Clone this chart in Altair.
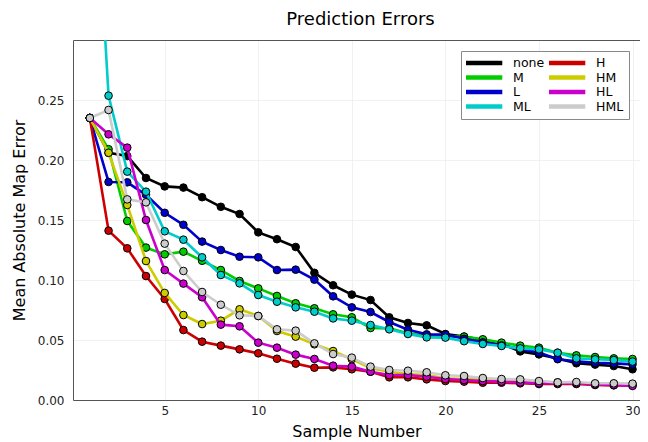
import altair as alt
import pandas as pd

samples = list(range(1, 31))
series_names = ["none", "M", "L", "ML", "H", "HM", "HL", "HML"]
series_colors = ["#000000", "#00cc00", "#0000cc", "#00cccc", "#cc0000", "#cccc00", "#cc00cc", "#cccccc"]

none_vals = [0.235, 0.206, 0.2033, 0.185, 0.178, 0.177, 0.169, 0.161, 0.155, 0.1397,
             0.134, 0.1275, 0.106, 0.0956, 0.0878, 0.0833, 0.0689, 0.0642, 0.0622, 0.0550,
             0.0528, 0.050, 0.047, 0.0405, 0.038, 0.0346, 0.0306, 0.0295, 0.0283, 0.0256]
m_vals = [0.235, 0.209, 0.1492, 0.127, 0.1214, 0.1236, 0.116, 0.1083, 0.0992, 0.093,
          0.0867, 0.0806, 0.0764, 0.0714, 0.0689, 0.060, 0.0597, 0.0556, 0.0533, 0.0528,
          0.0528, 0.0506, 0.0478, 0.0453, 0.0436, 0.0394, 0.0372, 0.0358, 0.0347, 0.0342]
l_vals = [0.235, 0.1817, 0.1814, 0.171, 0.156, 0.146, 0.132, 0.125, 0.1194, 0.1189,
          0.1083, 0.1086, 0.1003, 0.0864, 0.0772, 0.0733, 0.065, 0.0586, 0.0547, 0.0545,
          0.051, 0.048, 0.0455, 0.0425, 0.0395, 0.034, 0.0322, 0.031, 0.0305, 0.0297]
ml_vals = [0.52, 0.2536, 0.1903, 0.1736, 0.1406, 0.1336, 0.1189, 0.1042, 0.0972, 0.0875,
           0.0819, 0.0772, 0.0736, 0.068, 0.0661, 0.0625, 0.0589, 0.055, 0.0522, 0.052,
           0.049, 0.0467, 0.045, 0.043, 0.0422, 0.0394, 0.0347, 0.0339, 0.0333, 0.032]
h_vals = [0.235, 0.1411, 0.1264, 0.1033, 0.0842, 0.0583, 0.0486, 0.0453, 0.0422, 0.0389,
          0.0344, 0.0303, 0.0269, 0.0272, 0.0256, 0.0236, 0.0189, 0.0189, 0.0172, 0.0158,
          0.0153, 0.0144, 0.0144, 0.0139, 0.0133, 0.0133, 0.0133, 0.0125, 0.0122, 0.0122]
hm_vals = [0.235, 0.206, 0.1625, 0.1158, 0.0892, 0.0708, 0.0633, 0.0661, 0.0756, 0.070,
           0.0575, 0.0528, 0.0464, 0.0408, 0.034, 0.0264, 0.0236, 0.0217, 0.0208, 0.018,
           0.0175, 0.017, 0.0167, 0.016, 0.015, 0.0147, 0.0142, 0.0133, 0.0136, 0.0133]
hl_vals = [0.235, 0.2214, 0.2103, 0.150, 0.1083, 0.097, 0.0856, 0.0628, 0.0614, 0.0478,
           0.0436, 0.0378, 0.0342, 0.0286, 0.0278, 0.0236, 0.0208, 0.0208, 0.0194, 0.0175,
           0.0167, 0.0158, 0.0153, 0.0147, 0.0139, 0.0139, 0.0139, 0.013, 0.0125, 0.0117]
hml_vals = [0.235, 0.2417, 0.1672, 0.1647, 0.1303, 0.1075, 0.090, 0.0794, 0.0706, 0.070,
            0.0589, 0.0578, 0.0472, 0.0383, 0.0353, 0.0278, 0.025, 0.0244, 0.0231, 0.0206,
            0.020, 0.0183, 0.0175, 0.0172, 0.0158, 0.0147, 0.015, 0.0139, 0.0139, 0.0136]

x_ticks = [5, 10, 15, 20, 25, 30]
y_ticks = [0.0, 0.05, 0.10, 0.15, 0.20, 0.25]

all_vals = [none_vals, m_vals, l_vals, ml_vals, h_vals, hm_vals, hl_vals, hml_vals]
rows = []
for name, vals in zip(series_names, all_vals):
    for s, v in zip(samples, vals):
        rows.append({"sample": s, "error": v, "series": name})
df = pd.DataFrame(rows)

FONT = "DejaVu Sans"

x_scale = alt.Scale(domain=[0.1, 30.4], nice=False, zero=False)
y_scale = alt.Scale(domain=[0, 0.3], nice=False)

x_enc = alt.X("sample:Q", scale=x_scale,
              axis=alt.Axis(values=x_ticks, title="Sample Number", format="d"))
y_enc = alt.Y("error:Q", scale=y_scale,
              axis=alt.Axis(values=y_ticks, title="Mean Absolute Map Error", format=".2f"))
color_enc = alt.Color("series:N",
                      scale=alt.Scale(domain=series_names, range=series_colors),
                      legend=alt.Legend(title=None, orient="none", legendX=388, legendY=11,
                                        columns=2, symbolType="M-4.7,0L4.7,0",
                                        symbolStrokeWidth=4.5, symbolSize=64,
                                        symbolOffset=11, labelOffset=23,
                                        clipHeight=14,
                                        labelFontSize=12.5, labelFont=FONT,
                                        labelColor="#000000", strokeColor="#888888",
                                        fillColor="#ffffff", padding=5, rowPadding=0.5,
                                        columnPadding=4))
fill_enc = alt.Fill("series:N",
                    scale=alt.Scale(domain=series_names, range=series_colors),
                    legend=None)

layers = []
for name in series_names:
    base = alt.Chart(df).transform_filter(alt.datum.series == name)
    line = base.mark_line(strokeWidth=2.6, clip=True).encode(x=x_enc, y=y_enc, color=color_enc)
    pts = base.mark_circle(size=58, stroke="#000000", strokeWidth=1, opacity=1, clip=True).encode(
        x=x_enc, y=y_enc, fill=fill_enc)
    layers += [line, pts]

data_layer = alt.layer(*layers)

top_frame = alt.Chart(df).mark_point(opacity=0, clip=True).encode(
    x=alt.X("sample:Q", scale=x_scale,
            axis=alt.Axis(orient="top", labels=False, ticks=False, grid=False, title=None,
                          domain=True)),
    y=y_enc,
)

chart = alt.layer(data_layer, top_frame).resolve_axis(x="independent").properties(
    width=567, height=360,
    title=alt.TitleParams("Prediction Errors", fontSize=18, font=FONT, fontWeight="normal",
                          anchor="middle", offset=11, dx=4, color="#000000"),
    autosize=alt.AutoSizeParams(type="none"),
    padding={"left": 65, "top": 32, "right": 0, "bottom": 44},
).configure_view(
    stroke=None
).configure_axis(
    grid=True, gridColor="#eeeeee", gridWidth=0.8,
    domainColor="#555555", domainWidth=1,
    ticks=False,
    labelFont=FONT, labelFontSize=12, labelColor="#222222",
    titleFont=FONT, titleFontSize=16, titleFontWeight="normal", titleColor="#000000",
).configure_axisY(
    labelPadding=9, titlePadding=10
).configure_axisX(
    labelPadding=5, titlePadding=7
)

chart.save("out.html", embed_options={"renderer": "svg", "actions": False})
